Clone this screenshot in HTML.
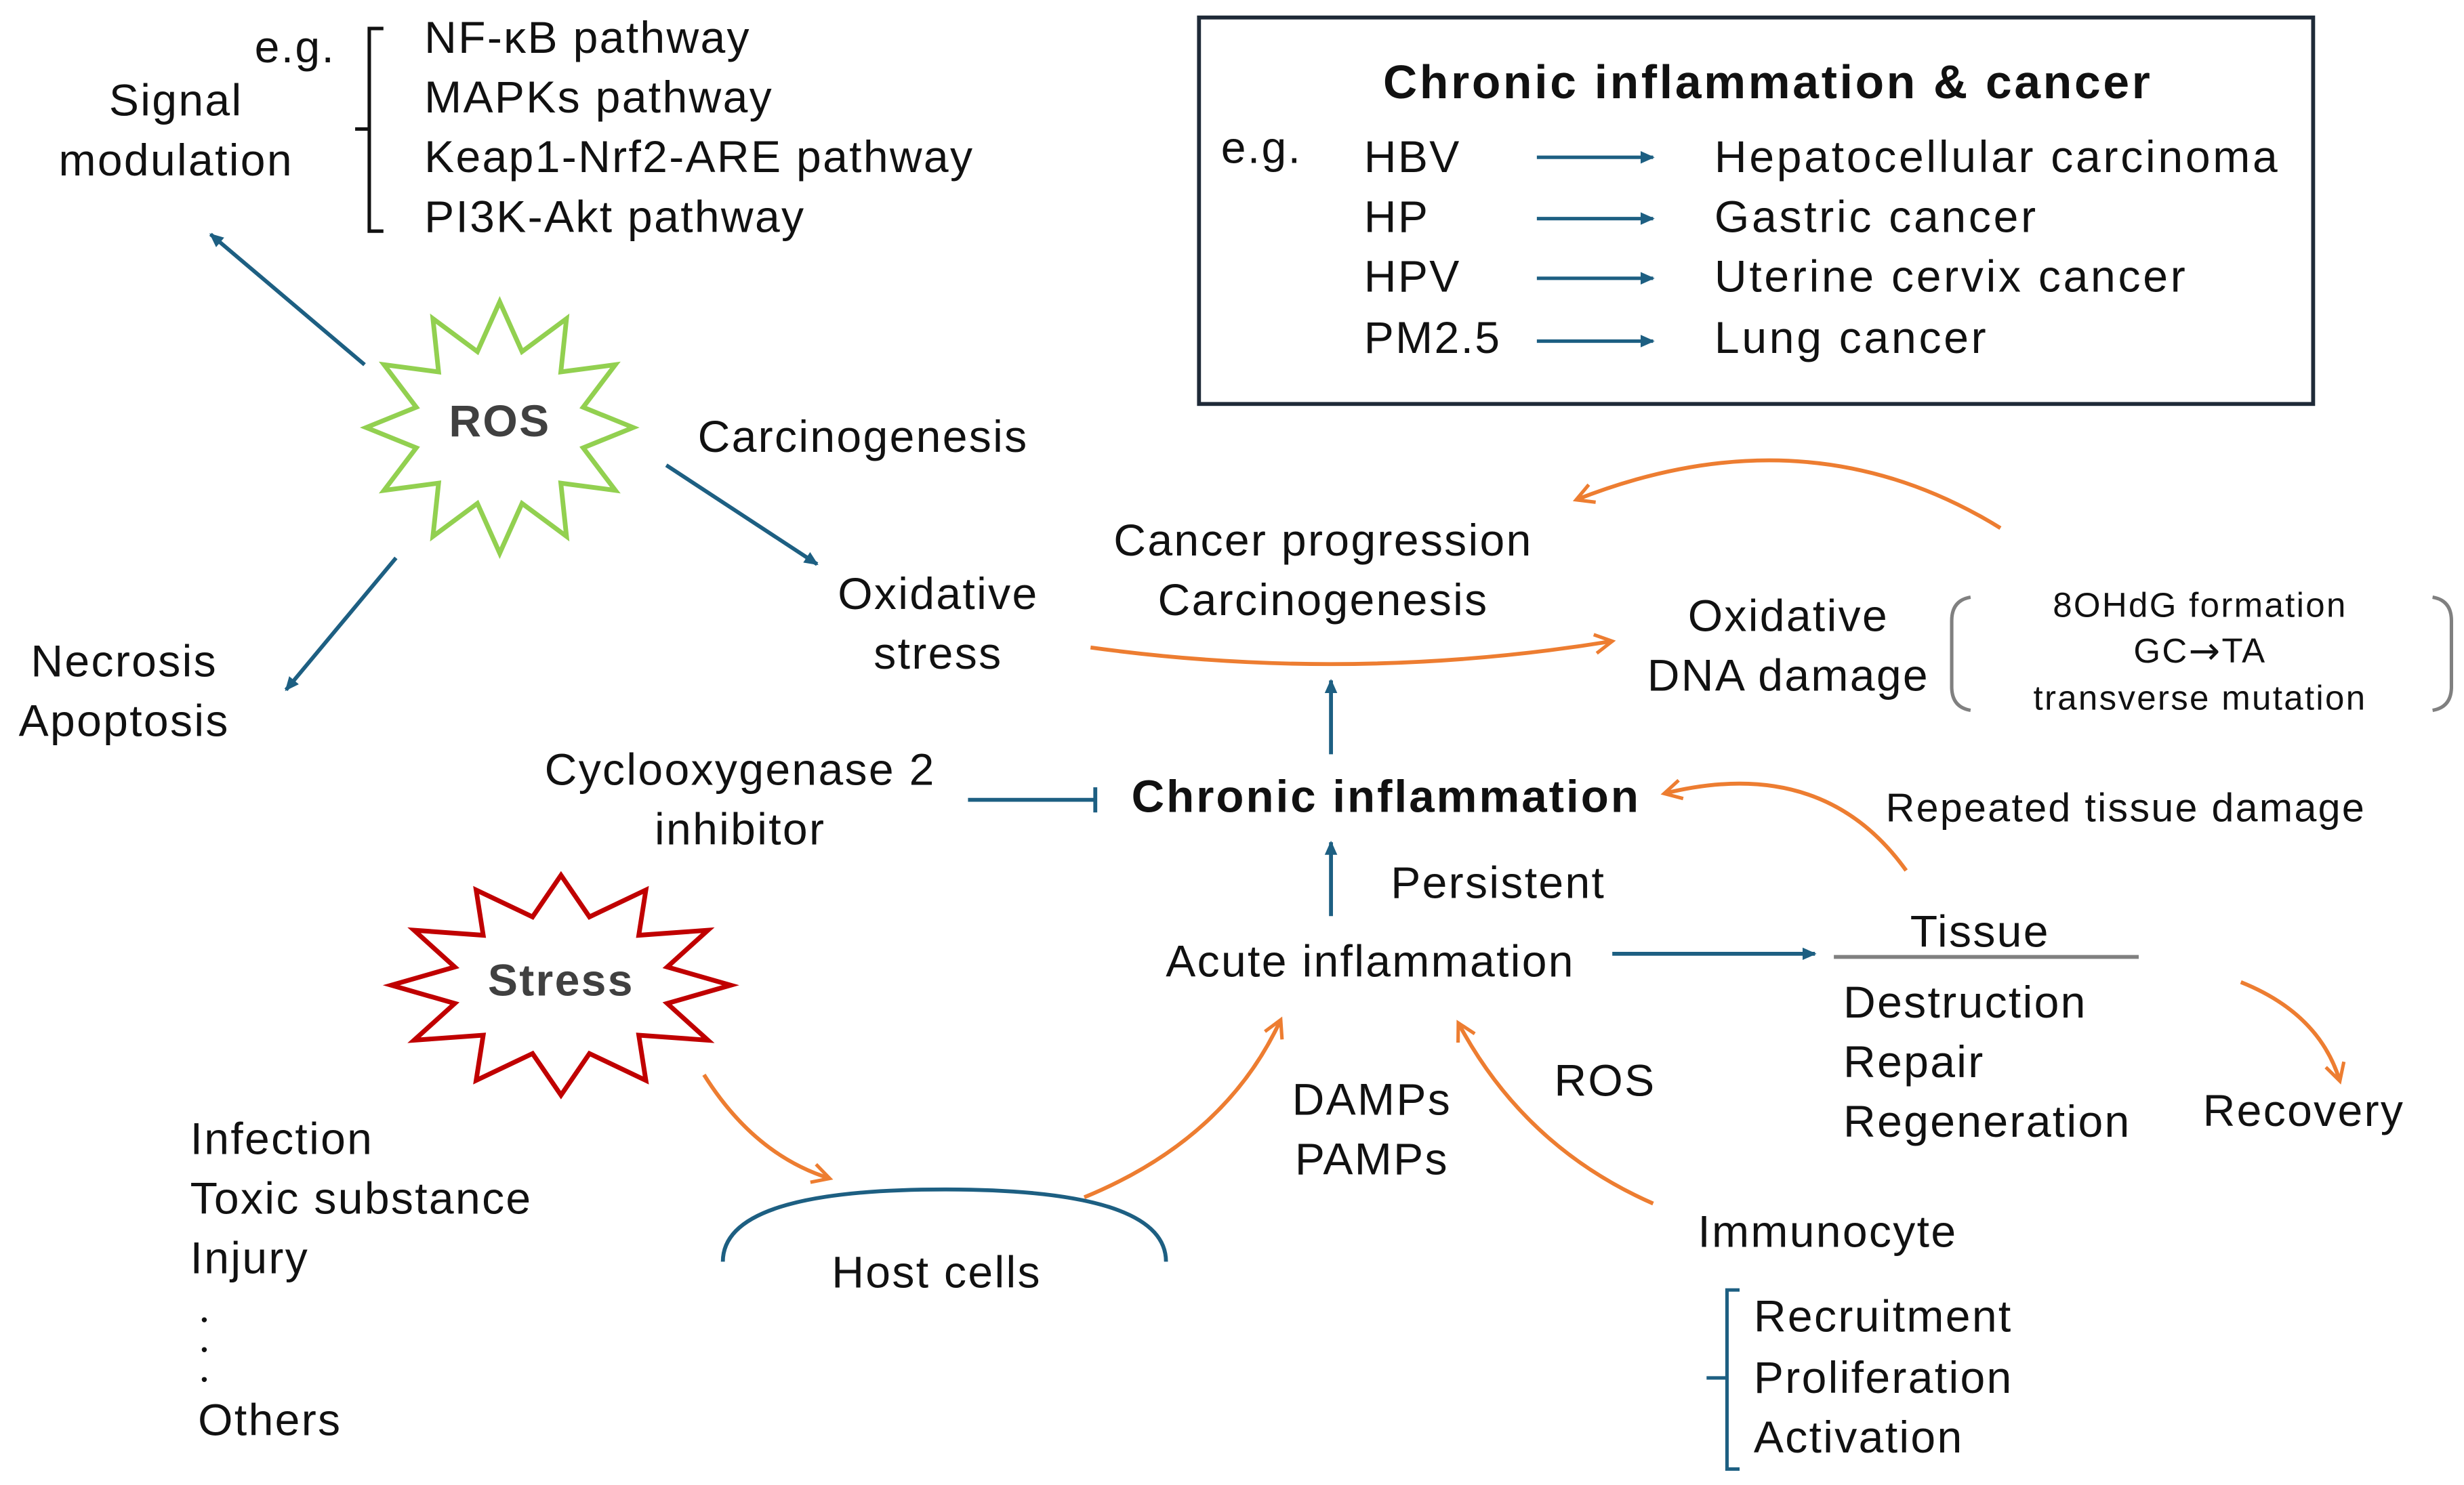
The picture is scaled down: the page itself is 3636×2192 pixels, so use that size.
<!DOCTYPE html>
<html><head><meta charset="utf-8"><style>
html,body{margin:0;padding:0;background:#fff;}
svg{display:block;}
text{font-family:"Liberation Sans",Arial,sans-serif;fill:#111;letter-spacing:1px;}
</style></head><body>
<svg width="3636" height="2192" viewBox="0 0 1568 945" xmlns="http://www.w3.org/2000/svg">
<defs>
<marker id="b" markerWidth="10" markerHeight="10" refX="8" refY="5" orient="auto" markerUnits="userSpaceOnUse"><path d="M0,1 L9,5 L0,9 Z" fill="#1d5f82"/></marker>
<marker id="o" markerWidth="16" markerHeight="16" refX="13" refY="8" orient="auto" markerUnits="userSpaceOnUse"><path d="M2,2 L13,8 L2,14" fill="none" stroke="#ed7d31" stroke-width="2.2"/></marker>
</defs>
<g font-size="28.5" dominant-baseline="central">
<text x="162" y="30">e.g.</text>
<path d="M244,18 H235 V147 H244 M235,82 H226" fill="none" stroke="#111" stroke-width="2.2"/>
<text x="270" y="24">NF-κB pathway</text>
<text x="270" y="62">MAPKs pathway</text>
<text x="270" y="100">Keap1-Nrf2-ARE pathway</text>
<text x="270" y="138">PI3K-Akt pathway</text>
<text x="112" y="64" text-anchor="middle">Signal</text>
<text x="112" y="102" text-anchor="middle">modulation</text>
<line x1="232" y1="232" x2="134" y2="149" stroke="#1d5f82" stroke-width="2.5" marker-end="url(#b)"/>
<polygon points="403,272 371.1,284.9 391.6,312 356.9,307.4 360.5,341.3 332.2,320.3 318,352 303.8,320.3 275.5,341.3 279.1,307.4 244.4,312 264.9,284.9 233,272 264.9,259.1 244.4,232 279.1,236.6 275.5,202.7 303.8,223.7 318,192 332.2,223.7 360.5,202.7 356.9,236.6 391.6,232 371.1,259.1" fill="#fff" stroke="#92d050" stroke-width="3"/>
<text x="318" y="268" text-anchor="middle" font-weight="bold" style="fill:#404040">ROS</text>
<line x1="252" y1="355" x2="182" y2="439" stroke="#1d5f82" stroke-width="2.5" marker-end="url(#b)"/>
<text x="79" y="421" text-anchor="middle">Necrosis</text>
<text x="79" y="459" text-anchor="middle">Apoptosis</text>
<text x="444" y="278">Carcinogenesis</text>
<line x1="424" y1="296" x2="520" y2="359" stroke="#1d5f82" stroke-width="2.5" marker-end="url(#b)"/>
<text x="597" y="378" text-anchor="middle">Oxidative</text>
<text x="597" y="416" text-anchor="middle">stress</text>
<rect x="763" y="11" width="709" height="246" fill="none" stroke="#1f2a38" stroke-width="2.5"/>
<text x="1125" y="52" text-anchor="middle" font-weight="bold" font-size="30" style="letter-spacing:1.6px">Chronic inflammation &amp; cancer</text>
<text x="777" y="94">e.g.</text>
<text x="868" y="100">HBV</text>
<text x="868" y="138">HP</text>
<text x="868" y="176">HPV</text>
<text x="868" y="215">PM2.5</text>
<g stroke="#1d5f82" stroke-width="2.2">
<line x1="978" y1="100" x2="1052" y2="100" marker-end="url(#b)"/>
<line x1="978" y1="139" x2="1052" y2="139" marker-end="url(#b)"/>
<line x1="978" y1="177" x2="1052" y2="177" marker-end="url(#b)"/>
<line x1="978" y1="217" x2="1052" y2="217" marker-end="url(#b)"/>
</g>
<text x="1091" y="100" style="letter-spacing:1.6px">Hepatocellular carcinoma</text>
<text x="1091" y="138" style="letter-spacing:1.6px">Gastric cancer</text>
<text x="1091" y="176" style="letter-spacing:1.6px">Uterine cervix cancer</text>
<text x="1091" y="215" style="letter-spacing:1.6px">Lung cancer</text>
<path d="M1273,336 Q1150,260 1003,318" fill="none" stroke="#ed7d31" stroke-width="2.5" marker-end="url(#o)"/>
<text x="842" y="344" text-anchor="middle">Cancer progression</text>
<text x="842" y="382" text-anchor="middle">Carcinogenesis</text>
<path d="M694,412 Q860,435 1026,408" fill="none" stroke="#ed7d31" stroke-width="2.5" marker-end="url(#o)"/>
<text x="1138" y="392" text-anchor="middle">Oxidative</text>
<text x="1138" y="430" text-anchor="middle">DNA damage</text>
<path d="M1254,380 Q1242,382 1242,395 V437 Q1242,450 1254,452" fill="none" stroke="#808080" stroke-width="2.2"/>
<path d="M1548,380 Q1560,382 1560,395 V437 Q1560,450 1548,452" fill="none" stroke="#808080" stroke-width="2.2"/>
<text x="1400" y="385" text-anchor="middle" font-size="22">8OHdG formation</text>
<text x="1400" y="414" text-anchor="middle" font-size="22">GC<tspan font-family="DejaVu Sans" font-size="24">→</tspan>TA</text>
<text x="1400" y="444" text-anchor="middle" font-size="22">transverse mutation</text>
<line x1="847" y1="480" x2="847" y2="433" stroke="#1d5f82" stroke-width="2.5" marker-end="url(#b)"/>
<text x="882" y="507" text-anchor="middle" font-weight="bold" font-size="29" style="letter-spacing:1.3px">Chronic inflammation</text>
<text x="471" y="490" text-anchor="middle">Cyclooxygenase 2</text>
<text x="471" y="528" text-anchor="middle">inhibitor</text>
<line x1="616" y1="509" x2="697" y2="509" stroke="#1d5f82" stroke-width="2.5"/>
<line x1="697" y1="501" x2="697" y2="517" stroke="#1d5f82" stroke-width="2.5"/>
<path d="M1213,554 Q1160,480 1059,505" fill="none" stroke="#ed7d31" stroke-width="2.5" marker-end="url(#o)"/>
<text x="1200" y="514" font-size="25.5">Repeated tissue damage</text>
<line x1="847" y1="583" x2="847" y2="536" stroke="#1d5f82" stroke-width="2.5" marker-end="url(#b)"/>
<text x="885" y="562">Persistent</text>
<text x="872" y="612" text-anchor="middle">Acute inflammation</text>
<line x1="1026" y1="607" x2="1155" y2="607" stroke="#1d5f82" stroke-width="2.5" marker-end="url(#b)"/>
<text x="1260" y="593" text-anchor="middle">Tissue</text>
<line x1="1167" y1="609" x2="1361" y2="609" stroke="#808080" stroke-width="2.5"/>
<text x="1173" y="638">Destruction</text>
<text x="1173" y="676">Repair</text>
<text x="1173" y="714">Regeneration</text>
<path d="M1426,625 Q1476,645 1489,688" fill="none" stroke="#ed7d31" stroke-width="2.5" marker-end="url(#o)"/>
<text x="1466" y="707" text-anchor="middle">Recovery</text>
<polygon points="465,627 424.6,638.6 450.5,662 406.5,658.8 411,687.6 375.1,670.5 357,697 338.9,670.5 303,687.6 307.5,658.8 263.5,662 289.4,638.6 249,627 289.4,615.4 263.5,592 307.5,595.2 303,566.4 338.9,583.5 357,557 375.1,583.5 411,566.4 406.5,595.2 450.5,592 424.6,615.4" fill="#fff" stroke="#c00000" stroke-width="3"/>
<text x="357" y="624" text-anchor="middle" font-weight="bold" style="fill:#404040">Stress</text>
<path d="M448,684 Q480,735 528,750" fill="none" stroke="#ed7d31" stroke-width="2.5" marker-end="url(#o)"/>
<text x="121" y="725">Infection</text>
<text x="121" y="763">Toxic substance</text>
<text x="121" y="801">Injury</text>
<circle cx="130" cy="840" r="1.6" fill="#111"/>
<circle cx="130" cy="859" r="1.6" fill="#111"/>
<circle cx="130" cy="878" r="1.6" fill="#111"/>
<text x="126" y="904">Others</text>
<path d="M460,803 Q460,757 601,757 Q742,757 742,803" fill="none" stroke="#1d5f82" stroke-width="2.5"/>
<text x="596" y="810" text-anchor="middle">Host cells</text>
<path d="M690,762 Q780,725 815,649" fill="none" stroke="#ed7d31" stroke-width="2.5" marker-end="url(#o)"/>
<text x="873" y="700" text-anchor="middle">DAMPs</text>
<text x="873" y="738" text-anchor="middle">PAMPs</text>
<text x="989" y="688">ROS</text>
<path d="M1052,766 Q970,730 928,651" fill="none" stroke="#ed7d31" stroke-width="2.5" marker-end="url(#o)"/>
<text x="1163" y="784" text-anchor="middle">Immunocyte</text>
<path d="M1107,821 H1099 V935 H1107 M1099,877 H1086" fill="none" stroke="#1d5f82" stroke-width="2.2"/>
<text x="1116" y="838">Recruitment</text>
<text x="1116" y="877">Proliferation</text>
<text x="1116" y="915">Activation</text>
</g>
</svg>
</body></html>
